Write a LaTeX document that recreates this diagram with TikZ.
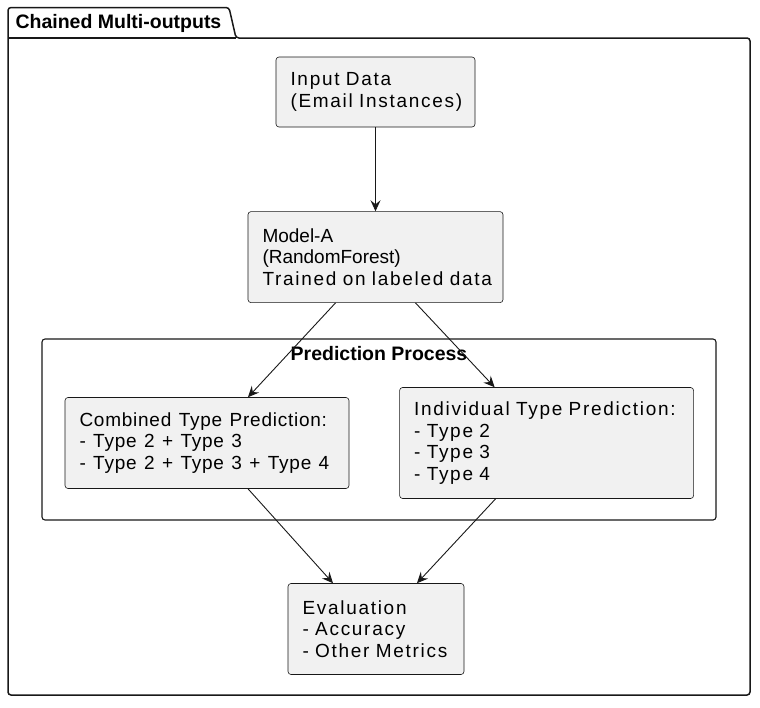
\documentclass[tikz,border=0pt]{standalone}
\usepackage{fontspec}
\setmainfont{Liberation Sans}
\newfontfamily\spacedfont[LetterSpace=9]{Liberation Sans}
\newfontfamily\narrowfont[LetterSpace=4]{Liberation Sans}
\newcommand\combinedfont{\narrowfont\spaceskip=7.4pt\relax}
\usetikzlibrary{arrows.meta,positioning}
\definecolor{boxfill}{HTML}{F1F1F1}
\definecolor{boxline}{HTML}{181818}
\tikzset{>={Stealth[length=11pt,width=10pt,inset=4pt]}}

\begin{document}
\begin{tikzpicture}[x=1pt, y=-1pt, font=\fontsize{19}{21.5}\selectfont\spacedfont,
	stepbox/.style={draw=boxline, fill=boxfill, line width=0.6pt, rounded corners=3pt, align=left, inner xsep=14.5pt, inner ysep=0pt},
	frametitle/.style={font=\fontsize{19.5}{21.5}\selectfont\bfseries},
	flow/.style={->, draw=boxline, line width=0.9pt}]
	\useasboundingbox (0,0) rectangle (760,707);

	% outer package frame with its tab
	\draw[boxline, line width=1.5pt, rounded corners=3pt] (236,38) -- (229,7.5) -- (8,7.5) -- (8,695) -- (750,695) -- (750,38) -- cycle;
	\draw[boxline, line width=1.5pt] (8,38) -- (236,38);
	\node[frametitle, anchor=west] (title) at (12,23) {Chained Multi-outputs};

	% inner frame
	\node[draw=boxline, line width=1.1pt, rounded corners=3pt, minimum width=674pt, minimum height=181pt] (predframe) at (379,429.5) {};
	\node[frametitle, below=4pt of predframe.north] (predtitle) {Prediction Process};

	\node[stepbox, minimum width=199pt, minimum height=70pt, text width=170pt] (input) at (375.5,92) {Input Data\\(Email Instances)};
	\node[stepbox, minimum width=255pt, minimum height=91pt, text width=226pt, below=84pt of input] (model) {{\rmfamily Model-A}\\{\rmfamily (RandomForest)}\\\mbox{Trained on labeled data}};
	\node[stepbox, minimum width=284pt, minimum height=91pt, text width=255pt] (combined) at (207,443) {\combinedfont Combined Type Prediction:\\\combinedfont - Type 2 + Type 3\\\combinedfont - Type 2 + Type 3 + Type 4};
	\node[stepbox, minimum width=294pt, minimum height=111pt, text width=265pt, right=50pt of combined] (individual) {Individual Type Prediction:\\- Type 2\\- Type 3\\- Type 4};
	\node[stepbox, minimum width=176pt, minimum height=91pt, text width=147pt] (evaluation) at (376,629) {Evaluation\\- Accuracy\\- Other Metrics};

	\draw[flow] (input) -- (model);
	\draw[flow] ([xshift=-40pt]model.south) -- ([xshift=41pt]combined.north);
	\draw[flow] ([xshift=40pt]model.south) -- ([xshift=-52pt]individual.north);
	\draw[flow] ([xshift=41pt]combined.south) -- ([xshift=-43pt]evaluation.north);
	\draw[flow] ([xshift=-51pt]individual.south) -- ([xshift=41pt]evaluation.north);
\end{tikzpicture}
\end{document}
